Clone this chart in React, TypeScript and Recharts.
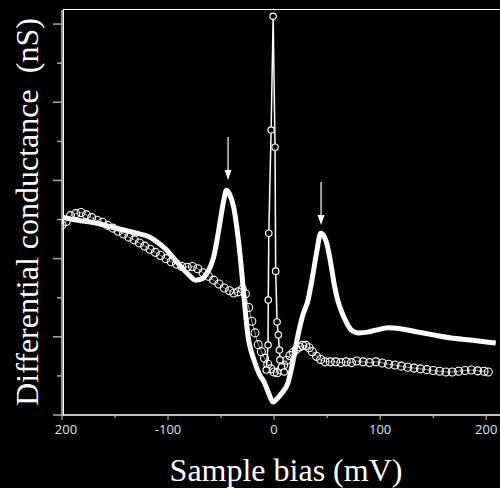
import { LineChart, Line, XAxis, YAxis, ReferenceDot } from "recharts";

// thick white trace (mV, nS)
const thickTrace = [
  { x: -200, y: 5.06 }, { x: -185, y: 4.98 }, { x: -170, y: 4.92 }, { x: -155, y: 4.82 },
  { x: -140, y: 4.72 }, { x: -128, y: 4.64 }, { x: -118, y: 4.56 }, { x: -110, y: 4.42 },
  { x: -102, y: 4.24 }, { x: -95, y: 4.02 }, { x: -88, y: 3.8 }, { x: -81, y: 3.6 },
  { x: -74, y: 3.45 }, { x: -68, y: 3.48 }, { x: -64, y: 3.6 }, { x: -60, y: 3.8 },
  { x: -57, y: 4.04 }, { x: -53, y: 4.6 }, { x: -50, y: 5.1 }, { x: -47, y: 5.55 },
  { x: -45, y: 5.75 }, { x: -42, y: 5.65 }, { x: -38, y: 5.3 }, { x: -34, y: 4.55 },
  { x: -31, y: 3.79 }, { x: -28, y: 2.9 }, { x: -25, y: 2.1 }, { x: -19, y: 1.41 },
  { x: -14, y: 1.05 }, { x: -9, y: 0.82 }, { x: -5, y: 0.55 }, { x: -1, y: 0.33 },
  { x: 3, y: 0.42 }, { x: 7, y: 0.55 }, { x: 13, y: 0.82 }, { x: 18, y: 1.4 },
  { x: 23, y: 2.1 }, { x: 27, y: 2.55 }, { x: 32, y: 2.94 }, { x: 36, y: 3.5 },
  { x: 40, y: 4.14 }, { x: 44, y: 4.65 }, { x: 47, y: 4.58 }, { x: 50, y: 4.35 },
  { x: 54, y: 3.79 }, { x: 57, y: 3.3 }, { x: 60, y: 2.94 }, { x: 64, y: 2.62 },
  { x: 68, y: 2.38 }, { x: 73, y: 2.17 }, { x: 80, y: 2.1 }, { x: 88, y: 2.12 },
  { x: 96, y: 2.17 }, { x: 108, y: 2.23 }, { x: 120, y: 2.2 }, { x: 136, y: 2.12 },
  { x: 150, y: 2.05 }, { x: 167, y: 1.97 }, { x: 185, y: 1.92 }, { x: 200, y: 1.87 },
  { x: 209, y: 1.84 },
];

// open-circle trace
const circleTrace = [
  { x: -200, y: 4.86 }, { x: -196, y: 4.95 }, { x: -192, y: 5.1 }, { x: -187, y: 5.15 },
  { x: -182, y: 5.18 }, { x: -177, y: 5.12 }, { x: -172, y: 5.05 }, { x: -167, y: 4.98 },
  { x: -162, y: 4.93 }, { x: -157, y: 4.85 }, { x: -152, y: 4.78 }, { x: -147, y: 4.7 },
  { x: -142, y: 4.63 }, { x: -137, y: 4.55 }, { x: -132, y: 4.48 }, { x: -127, y: 4.4 },
  { x: -122, y: 4.32 }, { x: -117, y: 4.24 }, { x: -112, y: 4.16 }, { x: -107, y: 4.08 },
  { x: -102, y: 4.0 }, { x: -97, y: 3.92 }, { x: -92, y: 3.86 }, { x: -87, y: 3.8 },
  { x: -82, y: 3.78 }, { x: -77, y: 3.8 }, { x: -72, y: 3.74 }, { x: -67, y: 3.64 },
  { x: -62, y: 3.55 }, { x: -57, y: 3.45 }, { x: -52, y: 3.35 }, { x: -47, y: 3.25 },
  { x: -42, y: 3.18 }, { x: -38, y: 3.12 }, { x: -34, y: 3.15 }, { x: -30, y: 3.22 },
  { x: -27, y: 3.1 }, { x: -24, y: 2.75 }, { x: -21, y: 2.4 }, { x: -18, y: 2.1 },
  { x: -15, y: 1.8 }, { x: -12, y: 1.62 }, { x: -9, y: 1.45 }, { x: -6, y: 1.3 },
  { x: -3, y: 1.18 }, { x: 0, y: 1.1 }, { x: 3, y: 1.08 }, { x: 6, y: 1.15 },
  { x: 9, y: 1.28 }, { x: 12, y: 1.4 }, { x: 15, y: 1.52 }, { x: 18, y: 1.6 },
  { x: 21, y: 1.68 }, { x: 24, y: 1.74 }, { x: 27, y: 1.78 }, { x: 30, y: 1.78 },
  { x: 33, y: 1.72 }, { x: 36, y: 1.62 }, { x: 40, y: 1.5 }, { x: 44, y: 1.42 },
  { x: 48, y: 1.36 }, { x: 53, y: 1.36 }, { x: 58, y: 1.36 }, { x: 63, y: 1.34 },
  { x: 68, y: 1.36 }, { x: 73, y: 1.34 }, { x: 78, y: 1.38 }, { x: 84, y: 1.36 },
  { x: 90, y: 1.34 }, { x: 96, y: 1.36 }, { x: 102, y: 1.33 }, { x: 108, y: 1.3 },
  { x: 114, y: 1.28 }, { x: 120, y: 1.25 }, { x: 126, y: 1.22 }, { x: 132, y: 1.2 },
  { x: 138, y: 1.18 }, { x: 144, y: 1.16 }, { x: 150, y: 1.14 }, { x: 156, y: 1.12 },
  { x: 162, y: 1.1 }, { x: 168, y: 1.1 }, { x: 174, y: 1.12 }, { x: 180, y: 1.14 },
  { x: 186, y: 1.15 }, { x: 192, y: 1.13 }, { x: 198, y: 1.12 }, { x: 202, y: 1.1 },
];

// narrow zero-bias spike
const spikeTrace = [
  { x: -7.5, y: 1.15 }, { x: -5.7, y: 1.79 }, { x: -5.5, y: 2.94 }, { x: -5, y: 4.65 },
  { x: -2.8, y: 7.29 }, { x: -0.9, y: 10.2 }, { x: 0.9, y: 6.85 }, { x: 1.5, y: 3.68 },
  { x: 2.8, y: 2.38 }, { x: 4, y: 2.05 }, { x: 5, y: 1.66 }, { x: 5.5, y: 1.41 },
  { x: 7, y: 1.23 }, { x: 9.5, y: 1.1 },
];

const xTicks = [-200, -150, -100, -50, 0, 50, 100, 150, 200];
const yTicks = [0, 1, 2, 3, 4, 5, 6, 7, 8, 9, 10];
const arrowTips = [{ x: -43.4, y: 6.01 }, { x: 44.3, y: 4.86 }];

const XTick = ({ x, y, payload }: any) => {
  const major = payload.value % 100 === 0;
  const label = payload.value === -200 ? "200" : String(payload.value);
  return (
    <g>
      <line x1={x} y1={y} x2={x} y2={y + (major ? 5 : 3)} stroke="#cccccc" strokeWidth={1} />
      {major && (
        <text x={x + (payload.value === -200 ? 4 : 0)} y={y + 19} textAnchor="middle"
          fill="#dde4ec" fontSize={13} fontFamily="Open Sans">{label}</text>
      )}
    </g>
  );
};

const YTick = ({ x, y, payload }: any) => {
  const len = payload.value % 2 === 0 ? 9 : 5;
  return <line x1={x - len} y1={y} x2={x} y2={y} stroke="#aaaaaa" strokeWidth={1.5} />;
};

const Arrow = ({ cx, cy }: any) => (
  <g>
    <line x1={cx} y1={cy - 43} x2={cx} y2={cy - 8} stroke="#fff" strokeWidth={1.2} />
    <polygon points={`${cx - 3.5},${cy - 10} ${cx + 3.5},${cy - 10} ${cx},${cy}`} fill="#fff" />
  </g>
);

const XLabel = () => (
  <text x={286} y={481} textAnchor="middle" fill="#fff" fontSize={32}
    fontFamily="Liberation Serif">Sample bias (mV)</text>
);

const YLabel = () => (
  <text x={27} y={212} transform="rotate(-90 27 212)" textAnchor="middle"
    dominantBaseline="central" fill="#fff" fontSize={32}
    fontFamily="Liberation Serif" style={{ whiteSpace: "pre" }}>
    Differential conductance  (nS)
  </text>
);

export default function App() {
  return (
    <div style={{ position: "fixed", left: 0, top: 0, width: 500, height: 488, overflow: "hidden", background: "#000" }}>
      <div style={{ position: "absolute", left: 63, top: 9, width: 460, height: 405, borderLeft: "1.5px solid #fff", borderTop: "1.5px solid #fff", pointerEvents: "none" }} />
      <LineChart width={518} height={488} margin={{ top: 10, right: 0, bottom: 0, left: 0 }}>
        <XAxis type="number" dataKey="x" domain={[-200, 230]} ticks={xTicks}
          allowDataOverflow axisLine={{ stroke: "#fff", strokeWidth: 1.5 }}
          tickLine={false} tickSize={0} tickMargin={0} height={73}
          tick={<XTick />} label={<XLabel />} />
        <YAxis type="number" domain={[0, 10.36]} ticks={yTicks} allowDataOverflow
          width={62} axisLine={{ stroke: "#999", strokeWidth: 2 }}
          tickLine={false} tickSize={0} tickMargin={0}
          tick={<YTick />} label={<YLabel />} />
        <Line data={circleTrace} dataKey="y" type="linear" stroke="#fff" strokeWidth={0.6}
          dot={{ r: 4, stroke: "#fff", strokeWidth: 1.1, fill: "none" }} isAnimationActive={false} />
        <Line data={thickTrace} dataKey="y" type="monotone" stroke="#fff" strokeWidth={5}
          strokeLinejoin="round" dot={false} isAnimationActive={false} />
        <Line data={spikeTrace} dataKey="y" type="linear" stroke="#fff" strokeWidth={1.5}
          dot={{ r: 3.2, stroke: "#fff", strokeWidth: 1.2, fill: "#000" }} isAnimationActive={false} />
        {arrowTips.map((a) => (
          <ReferenceDot key={a.x} x={a.x} y={a.y} shape={<Arrow />} ifOverflow="visible" />
        ))}
      </LineChart>
    </div>
  );
}
